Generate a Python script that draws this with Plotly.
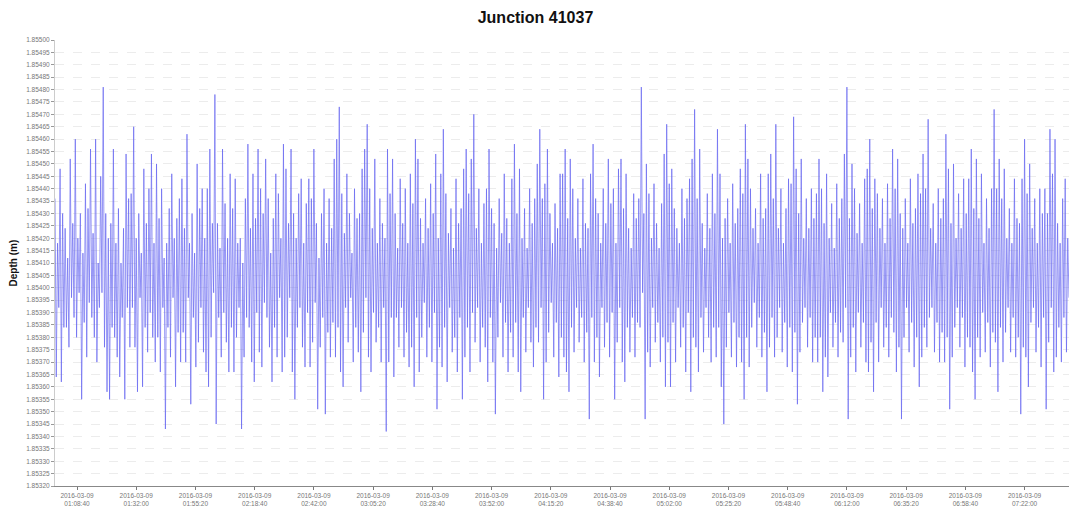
import plotly.graph_objects as go
import pandas as pd

# ---------------- data ----------------
title_text = "Junction 41037"
y_title = "Depth (m)"
start_time = "2016-03-09 01:00:00"
sample_interval = "30s"

depth_m = [
    1.85436, 1.85364, 1.85418, 1.85392, 1.85448, 1.85362, 1.85430, 1.85384, 1.85424, 1.85384, 1.85412, 1.85376, 1.85452, 1.85396, 1.85426, 1.85388, 1.85460, 1.85380, 1.85420, 1.85398,
    1.85430, 1.85355, 1.85414, 1.85386, 1.85442, 1.85372, 1.85432, 1.85394, 1.85456, 1.85388, 1.85422, 1.85380, 1.85460, 1.85370, 1.85410, 1.85392, 1.85445, 1.85398, 1.85481, 1.85376,
    1.85430, 1.85358, 1.85420, 1.85355, 1.85426, 1.85384, 1.85456, 1.85380, 1.85418, 1.85372, 1.85432, 1.85364, 1.85410, 1.85388, 1.85424, 1.85355, 1.85454, 1.85392, 1.85436, 1.85376,
    1.85438, 1.85392, 1.85465, 1.85376, 1.85420, 1.85358, 1.85430, 1.85396, 1.85414, 1.85360, 1.85448, 1.85384, 1.85426, 1.85374, 1.85440, 1.85390, 1.85454, 1.85380, 1.85418, 1.85370,
    1.85450, 1.85380, 1.85428, 1.85366, 1.85440, 1.85392, 1.85412, 1.85343, 1.85418, 1.85384, 1.85432, 1.85372, 1.85446, 1.85396, 1.85420, 1.85360, 1.85428, 1.85382, 1.85436, 1.85370,
    1.85444, 1.85382, 1.85424, 1.85370, 1.85462, 1.85396, 1.85418, 1.85353, 1.85430, 1.85388, 1.85414, 1.85368, 1.85450, 1.85378, 1.85432, 1.85392, 1.85440, 1.85374, 1.85420, 1.85366,
    1.85440, 1.85360, 1.85456, 1.85380, 1.85426, 1.85398, 1.85478, 1.85345, 1.85426, 1.85388, 1.85416, 1.85372, 1.85456, 1.85390, 1.85434, 1.85378, 1.85420, 1.85366, 1.85446, 1.85384,
    1.85432, 1.85366, 1.85444, 1.85380, 1.85418, 1.85392, 1.85420, 1.85343, 1.85410, 1.85372, 1.85436, 1.85388, 1.85458, 1.85384, 1.85424, 1.85370, 1.85446, 1.85362, 1.85428, 1.85390,
    1.85456, 1.85374, 1.85440, 1.85368, 1.85430, 1.85394, 1.85452, 1.85388, 1.85436, 1.85376, 1.85414, 1.85362, 1.85428, 1.85384, 1.85446, 1.85372, 1.85438, 1.85396, 1.85420, 1.85366,
    1.85458, 1.85372, 1.85448, 1.85380, 1.85426, 1.85396, 1.85456, 1.85366, 1.85430, 1.85355, 1.85420, 1.85384, 1.85438, 1.85392, 1.85444, 1.85376, 1.85418, 1.85368, 1.85434, 1.85390,
    1.85444, 1.85368, 1.85436, 1.85378, 1.85456, 1.85394, 1.85426, 1.85351, 1.85412, 1.85376, 1.85430, 1.85388, 1.85440, 1.85349, 1.85418, 1.85382, 1.85436, 1.85372, 1.85424, 1.85386,
    1.85452, 1.85372, 1.85460, 1.85384, 1.85473, 1.85366, 1.85438, 1.85360, 1.85422, 1.85392, 1.85446, 1.85378, 1.85430, 1.85396, 1.85414, 1.85370, 1.85440, 1.85384, 1.85428, 1.85374,
    1.85430, 1.85358, 1.85448, 1.85382, 1.85456, 1.85396, 1.85466, 1.85372, 1.85440, 1.85366, 1.85424, 1.85390, 1.85452, 1.85378, 1.85418, 1.85384, 1.85436, 1.85370, 1.85426, 1.85392,
    1.85420, 1.85342, 1.85456, 1.85370, 1.85438, 1.85388, 1.85452, 1.85364, 1.85430, 1.85388, 1.85416, 1.85376, 1.85444, 1.85392, 1.85426, 1.85372, 1.85440, 1.85382, 1.85418, 1.85368,
    1.85446, 1.85376, 1.85434, 1.85360, 1.85460, 1.85388, 1.85452, 1.85366, 1.85428, 1.85380, 1.85418, 1.85394, 1.85436, 1.85372, 1.85424, 1.85384, 1.85442, 1.85370, 1.85430, 1.85390,
    1.85454, 1.85351, 1.85420, 1.85376, 1.85446, 1.85368, 1.85464, 1.85384, 1.85438, 1.85362, 1.85422, 1.85392, 1.85432, 1.85374, 1.85416, 1.85380, 1.85444, 1.85366, 1.85426, 1.85388,
    1.85432, 1.85355, 1.85448, 1.85372, 1.85456, 1.85384, 1.85438, 1.85366, 1.85452, 1.85390, 1.85470, 1.85378, 1.85424, 1.85392, 1.85440, 1.85370, 1.85418, 1.85384, 1.85434, 1.85376,
    1.85440, 1.85362, 1.85456, 1.85388, 1.85432, 1.85370, 1.85426, 1.85349, 1.85416, 1.85380, 1.85436, 1.85394, 1.85422, 1.85372, 1.85446, 1.85386, 1.85428, 1.85366, 1.85418, 1.85382,
    1.85444, 1.85372, 1.85458, 1.85386, 1.85430, 1.85366, 1.85448, 1.85358, 1.85420, 1.85388, 1.85432, 1.85374, 1.85416, 1.85392, 1.85440, 1.85378, 1.85426, 1.85368, 1.85436, 1.85384,
    1.85450, 1.85378, 1.85464, 1.85392, 1.85436, 1.85355, 1.85442, 1.85370, 1.85456, 1.85382, 1.85430, 1.85394, 1.85418, 1.85372, 1.85434, 1.85386, 1.85424, 1.85364, 1.85446, 1.85380,
    1.85446, 1.85372, 1.85456, 1.85366, 1.85428, 1.85358, 1.85452, 1.85384, 1.85440, 1.85374, 1.85420, 1.85392, 1.85436, 1.85378, 1.85416, 1.85388, 1.85444, 1.85370, 1.85426, 1.85382,
    1.85424, 1.85347, 1.85446, 1.85388, 1.85458, 1.85370, 1.85436, 1.85380, 1.85430, 1.85364, 1.85418, 1.85392, 1.85440, 1.85376, 1.85426, 1.85386, 1.85452, 1.85372, 1.85434, 1.85390,
    1.85440, 1.85355, 1.85418, 1.85378, 1.85448, 1.85392, 1.85452, 1.85370, 1.85432, 1.85362, 1.85446, 1.85384, 1.85424, 1.85374, 1.85416, 1.85388, 1.85438, 1.85372, 1.85428, 1.85386,
    1.85436, 1.85384, 1.85481, 1.85398, 1.85430, 1.85347, 1.85450, 1.85374, 1.85438, 1.85368, 1.85420, 1.85392, 1.85442, 1.85378, 1.85426, 1.85386, 1.85416, 1.85370, 1.85434, 1.85380,
    1.85454, 1.85360, 1.85466, 1.85378, 1.85442, 1.85360, 1.85448, 1.85386, 1.85432, 1.85370, 1.85424, 1.85392, 1.85418, 1.85376, 1.85440, 1.85384, 1.85428, 1.85366, 1.85436, 1.85390,
    1.85444, 1.85358, 1.85452, 1.85380, 1.85472, 1.85376, 1.85436, 1.85366, 1.85456, 1.85388, 1.85426, 1.85374, 1.85416, 1.85392, 1.85438, 1.85380, 1.85424, 1.85370, 1.85446, 1.85384,
    1.85430, 1.85372, 1.85464, 1.85384, 1.85446, 1.85360, 1.85420, 1.85345, 1.85428, 1.85376, 1.85436, 1.85390, 1.85418, 1.85372, 1.85442, 1.85386, 1.85426, 1.85368, 1.85432, 1.85380,
    1.85448, 1.85370, 1.85438, 1.85355, 1.85466, 1.85380, 1.85452, 1.85368, 1.85440, 1.85384, 1.85424, 1.85394, 1.85432, 1.85376, 1.85418, 1.85388, 1.85446, 1.85372, 1.85428, 1.85382,
    1.85432, 1.85358, 1.85446, 1.85376, 1.85454, 1.85388, 1.85436, 1.85372, 1.85466, 1.85380, 1.85424, 1.85392, 1.85440, 1.85374, 1.85418, 1.85386, 1.85432, 1.85368, 1.85444, 1.85384,
    1.85442, 1.85366, 1.85469, 1.85382, 1.85448, 1.85353, 1.85430, 1.85374, 1.85452, 1.85386, 1.85420, 1.85392, 1.85436, 1.85376, 1.85424, 1.85388, 1.85440, 1.85370, 1.85428, 1.85380,
    1.85438, 1.85370, 1.85452, 1.85380, 1.85440, 1.85358, 1.85426, 1.85372, 1.85446, 1.85364, 1.85420, 1.85390, 1.85434, 1.85376, 1.85416, 1.85386, 1.85442, 1.85372, 1.85428, 1.85382,
    1.85436, 1.85378, 1.85454, 1.85392, 1.85481, 1.85347, 1.85428, 1.85372, 1.85450, 1.85384, 1.85440, 1.85366, 1.85422, 1.85390, 1.85434, 1.85376, 1.85418, 1.85386, 1.85444, 1.85370,
    1.85448, 1.85366, 1.85460, 1.85378, 1.85432, 1.85358, 1.85444, 1.85386, 1.85438, 1.85370, 1.85424, 1.85392, 1.85436, 1.85376, 1.85418, 1.85384, 1.85442, 1.85372, 1.85428, 1.85388,
    1.85456, 1.85382, 1.85440, 1.85366, 1.85452, 1.85376, 1.85430, 1.85347, 1.85424, 1.85380, 1.85436, 1.85392, 1.85418, 1.85374, 1.85444, 1.85386, 1.85426, 1.85368, 1.85432, 1.85380,
    1.85446, 1.85360, 1.85438, 1.85372, 1.85454, 1.85384, 1.85440, 1.85376, 1.85468, 1.85388, 1.85424, 1.85392, 1.85434, 1.85374, 1.85418, 1.85386, 1.85440, 1.85370, 1.85428, 1.85382,
    1.85436, 1.85370, 1.85462, 1.85380, 1.85448, 1.85351, 1.85426, 1.85372, 1.85450, 1.85384, 1.85420, 1.85392, 1.85438, 1.85376, 1.85424, 1.85388, 1.85444, 1.85368, 1.85430, 1.85380,
    1.85444, 1.85376, 1.85456, 1.85366, 1.85432, 1.85355, 1.85452, 1.85380, 1.85428, 1.85372, 1.85446, 1.85390, 1.85418, 1.85374, 1.85436, 1.85386, 1.85424, 1.85368, 1.85440, 1.85382,
    1.85472, 1.85378, 1.85440, 1.85358, 1.85452, 1.85384, 1.85436, 1.85370, 1.85448, 1.85382, 1.85420, 1.85392, 1.85432, 1.85374, 1.85418, 1.85388, 1.85444, 1.85372, 1.85428, 1.85380,
    1.85426, 1.85349, 1.85444, 1.85376, 1.85460, 1.85372, 1.85438, 1.85360, 1.85450, 1.85386, 1.85424, 1.85392, 1.85436, 1.85374, 1.85418, 1.85384, 1.85440, 1.85368, 1.85430, 1.85388,
    1.85440, 1.85351, 1.85430, 1.85378, 1.85464, 1.85392, 1.85446, 1.85366, 1.85460, 1.85372, 1.85426, 1.85384, 1.85418, 1.85370, 1.85436, 1.85388, 1.85444, 1.85374, 1.85420, 1.85396,
]

x_tick_times = [
    "2016-03-09 01:08:40", "2016-03-09 01:32:00", "2016-03-09 01:55:20",
    "2016-03-09 02:18:40", "2016-03-09 02:42:00", "2016-03-09 03:05:20",
    "2016-03-09 03:28:40", "2016-03-09 03:52:00", "2016-03-09 04:15:20",
    "2016-03-09 04:38:40", "2016-03-09 05:02:00", "2016-03-09 05:25:20",
    "2016-03-09 05:48:40", "2016-03-09 06:12:00", "2016-03-09 06:35:20",
    "2016-03-09 06:58:40", "2016-03-09 07:22:00",
]

y_ticks = [
    1.85320, 1.85325, 1.85330, 1.85335, 1.85340, 1.85345, 1.85350, 1.85355,
    1.85360, 1.85365, 1.85370, 1.85375, 1.85380, 1.85385, 1.85390, 1.85395,
    1.85400, 1.85405, 1.85410, 1.85415, 1.85420, 1.85425, 1.85430, 1.85435,
    1.85440, 1.85445, 1.85450, 1.85455, 1.85460, 1.85465, 1.85470, 1.85475,
    1.85480, 1.85485, 1.85490, 1.85495, 1.85500,
]

# ---------------- figure ----------------
times = pd.date_range(start=start_time, periods=len(depth_m), freq=sample_interval)
tick_vals = pd.to_datetime(x_tick_times)
tick_text = [f"{t.strftime('%Y-%m-%d')}<br>{t.strftime('%H:%M:%S')}" for t in tick_vals]

fig = go.Figure()
fig.add_trace(go.Scatter(
    x=times, y=depth_m, mode="lines",
    line=dict(color="rgba(100,100,240,0.85)", width=0.8),
    hoverinfo="x+y", showlegend=False,
))

fig.update_layout(
    width=1071, height=509,
    margin=dict(l=55, r=2, t=40, b=21),
    paper_bgcolor="white", plot_bgcolor="white",
    title=dict(text="<b>" + title_text + "</b>", x=0.5, xref="container",
               y=0.965, yref="container", yanchor="middle",
               font=dict(family="Liberation Sans, Arial, sans-serif", size=16, color="#111")),
    font=dict(family="Liberation Sans, Arial, sans-serif"),
)

fig.update_xaxes(
    range=[times[0], times[-1]],
    tickmode="array", tickvals=tick_vals, ticktext=tick_text,
    tickfont=dict(size=6.5, color="#777"),
    ticks="outside", ticklen=3, tickcolor="#777",
    showline=True, linecolor="#888", linewidth=1,
    showgrid=False, zeroline=False,
)
fig.update_yaxes(
    range=[y_ticks[0], y_ticks[-1]],
    tickmode="array", tickvals=y_ticks, ticktext=[f"{v:.5f}" for v in y_ticks],
    tickfont=dict(size=6.5, color="#777"),
    ticks="outside", ticklen=3, tickcolor="#999",
    showline=True, linecolor="#ccc", linewidth=1,
    showgrid=True, gridcolor="#ececec", griddash="dash", gridwidth=1,
    zeroline=False,
)

fig.add_annotation(
    text="<b>" + y_title + "</b>", textangle=-90,
    xref="paper", yref="paper", x=-0.041, y=0.5,
    xanchor="center", yanchor="middle", showarrow=False,
    font=dict(family="Liberation Sans, Arial, sans-serif", size=10, color="#111"),
)

fig.write_html("out.html")
